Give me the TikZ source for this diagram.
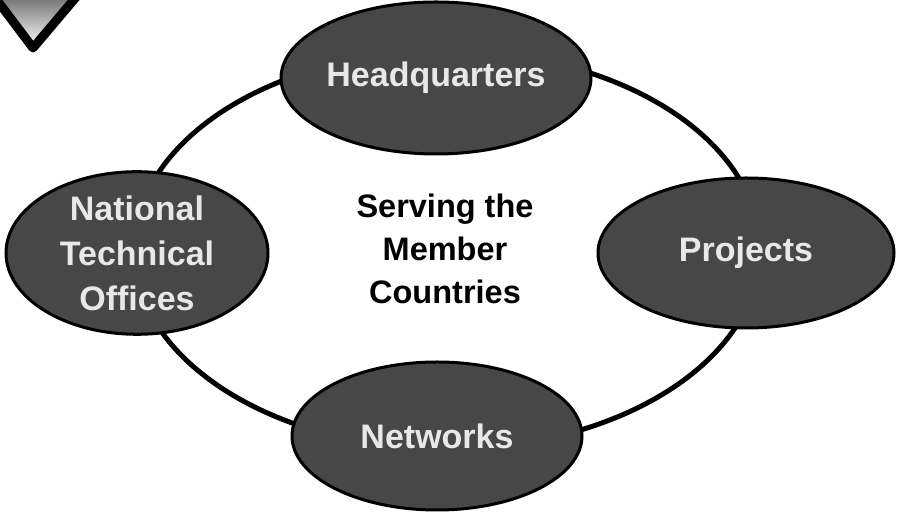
\documentclass[tikz,border=0pt]{standalone}
\usepackage{fontspec}
\setmainfont{Liberation Sans}
\usetikzlibrary{shapes.geometric,positioning}
\tikzset{blob/.style={ellipse,draw=black,line width=3pt,fill=black!72,text=gray!18,inner sep=0pt,align=center,
    font=\bfseries\fontsize{34}{45}\selectfont},
  ring/.style={line width=5pt},
  hub/.style={align=center,font=\bfseries\fontsize{32.5}{43}\selectfont}}
\begin{document}
\begin{tikzpicture}[x=1pt,y=1pt]
\useasboundingbox (0,0) rectangle (897,513);
% corner mark
\draw[line width=9pt,line join=round,top color=black!70,bottom color=white] (-16,530) -- (33,465) -- (88,530);
% ring
\draw[ring] (447,263) ellipse [x radius=313,y radius=199];
% sites
\node[blob,minimum width=286pt,minimum height=152pt] (hq) at (436,435) {Headquarters};
\node[blob,minimum width=262pt,minimum height=150pt] (nto) at (137,260) {National\\Technical\\Offices};
\node[blob,minimum width=296pt,minimum height=150pt] (proj) at (746,260) {Projects};
\node[blob,minimum width=290pt,minimum height=148pt] (net) at (437,77) {Networks};
\node[hub] (hubtext) at (445,264) {Serving the\\Member\\Countries};
\end{tikzpicture}
\end{document}
